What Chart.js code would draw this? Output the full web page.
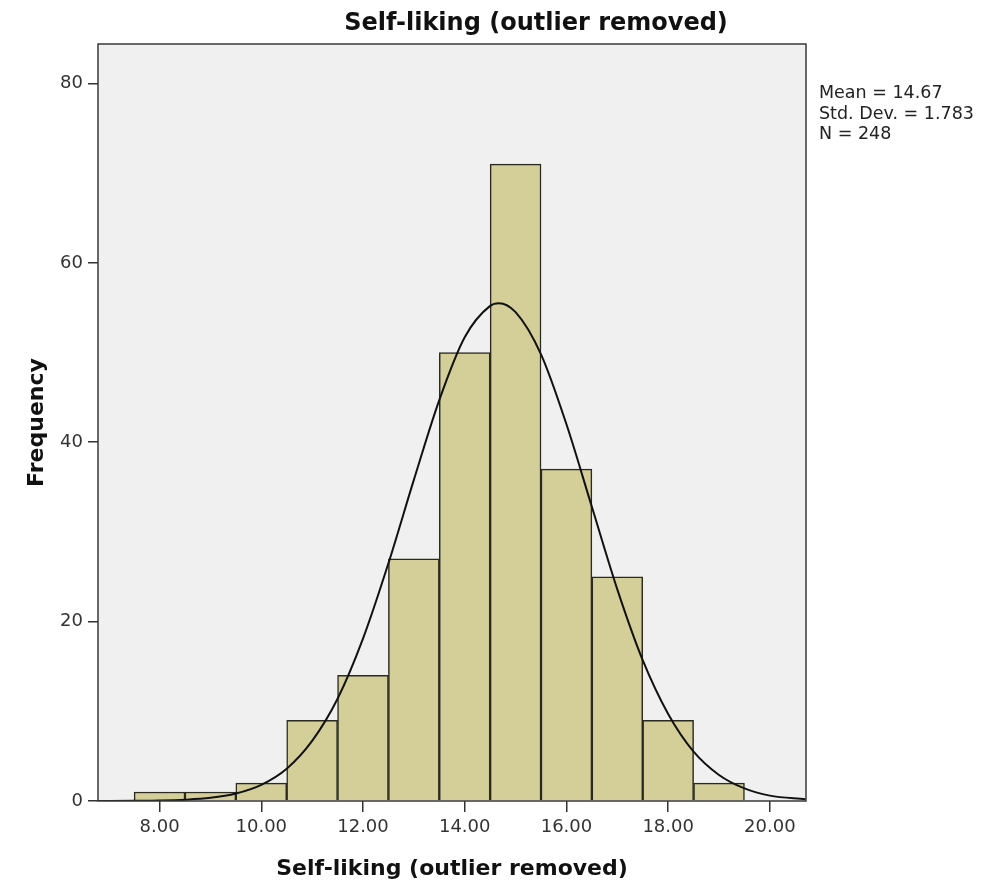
<!DOCTYPE html>
<html>
<head>
<meta charset="utf-8">
<script src="https://cdn.jsdelivr.net/npm/chart.js@4/dist/chart.umd.min.js"></script>
<style>
  html, body { margin: 0; padding: 0; background: #fff; }
  #wrap { width: 1005px; height: 884px; }
</style>
</head>
<body>
<div id="wrap"><canvas id="grafico"></canvas></div>
<script>
// histogram bins (centres) and counts
var binCenters = [8, 9, 10, 11, 12, 13, 14, 15, 16, 17, 18, 19];
var frequencies = [1, 1, 2, 9, 14, 27, 50, 71, 37, 25, 9, 2];

// normal curve
var curveX = [6.8, 7.5, 8, 8.5, 9, 9.5, 10, 10.5, 11, 11.5, 12, 12.5, 13, 13.5, 14, 14.5, 14.67, 15, 15.5, 16, 16.5, 17, 17.5, 18, 18.5, 19, 19.5, 20, 20.7];
var curveY = [0, 0.02, 0.05, 0.14, 0.35, 0.83, 1.8, 3.6, 6.7, 11.4, 18.1, 26.5, 35.8, 44.7, 51.7, 55.2, 55.5, 54.5, 49.8, 42.0, 32.8, 23.6, 15.7, 9.7, 5.5, 2.9, 1.4, 0.6, 0.2];

var xTicks = [8, 10, 12, 14, 16, 18, 20];
var yTicks = [0, 20, 40, 60, 80];

var titulo = 'Self-liking (outlier removed)';
var eixoX = 'Self-liking (outlier removed)';
var eixoY = 'Frequency';
var legenda = ['Mean = 14.67', 'Std. Dev. = 1.783', 'N = 248'];

var fonte = '"DejaVu Sans", Verdana, sans-serif';

var barras = [];
for (var i = 0; i < binCenters.length; i++) barras.push({x: binCenters[i], y: frequencies[i]});
var curva = [];
for (var j = 0; j < curveX.length; j++) curva.push({x: curveX[j], y: curveY[j]});

var moldura = {
  id: 'moldura',
  beforeDatasetsDraw: function(chart) {
    var a = chart.chartArea, c = chart.ctx;
    c.save();
    c.fillStyle = '#f0f0f0';
    c.fillRect(a.left, a.top, a.right - a.left, a.bottom - a.top);
    c.restore();
  },
  afterDraw: function(chart) {
    var a = chart.chartArea, c = chart.ctx;
    c.save();
    c.strokeStyle = '#3a3a3a';
    c.lineWidth = 1.5;
    c.strokeRect(a.left, a.top, a.right - a.left, a.bottom - a.top);

    c.fillStyle = '#111';
    c.textAlign = 'center';
    c.textBaseline = 'alphabetic';
    c.font = 'bold 24px ' + fonte;
    c.fillText(titulo, 536, 30);
    c.font = 'bold 22px ' + fonte;
    c.fillText(eixoX, (a.left + a.right) / 2, 875);
    c.save();
    c.translate(43, (a.top + a.bottom) / 2);
    c.rotate(-Math.PI / 2);
    c.fillText(eixoY, 0, 0);
    c.restore();

    c.fillStyle = '#222';
    c.textAlign = 'left';
    c.font = '17.5px ' + fonte;
    for (var k = 0; k < legenda.length; k++) c.fillText(legenda[k], 819, 98 + k * 20.7);
    c.restore();
  }
};

var ctx = document.getElementById('grafico').getContext('2d');
var chart = new Chart(ctx, {
  type: 'bar',
  data: {
    datasets: [{
      type: 'line',
      data: curva,
      borderColor: '#111',
      borderWidth: 2,
      pointRadius: 0,
      fill: false,
      cubicInterpolationMode: 'monotone'
    }, {
      type: 'bar',
      data: barras,
      backgroundColor: 'rgb(212,207,152)',
      borderColor: '#2a2a20',
      borderWidth: 1.5,
      barPercentage: 1,
      categoryPercentage: 1
    }]
  },
  options: {
    responsive: true,
    maintainAspectRatio: false,
    animation: false,
    layout: { padding: { top: 44, right: 199, left: 0, bottom: 0 } },
    plugins: { legend: { display: false }, tooltip: { enabled: false } },
    scales: {
      x: {
        type: 'linear',
        offset: false,
        min: 6.79,
        max: 20.71,
        afterFit: function(s) { s.height = 83; },
        afterBuildTicks: function(s) { s.ticks = xTicks.map(function(v) { return {value: v}; }); },
        grid: { offset: false, drawOnChartArea: false, tickLength: 11, color: '#333', lineWidth: 1.5 },
        border: { display: false },
        ticks: {
          padding: 5,
          color: '#333',
          font: { size: 18, family: fonte },
          callback: function(v) { return Number(v).toFixed(2); }
        }
      },
      y: {
        min: 0,
        max: 84.4,
        afterFit: function(s) { s.width = 98; },
        afterBuildTicks: function(s) { s.ticks = yTicks.map(function(v) { return {value: v}; }); },
        grid: { drawOnChartArea: false, tickLength: 10, color: '#333', lineWidth: 1.5 },
        border: { display: false },
        ticks: {
          padding: 5,
          color: '#333',
          font: { size: 18, family: fonte }
        }
      }
    }
  },
  plugins: [moldura]
});
</script>
</body>
</html>
